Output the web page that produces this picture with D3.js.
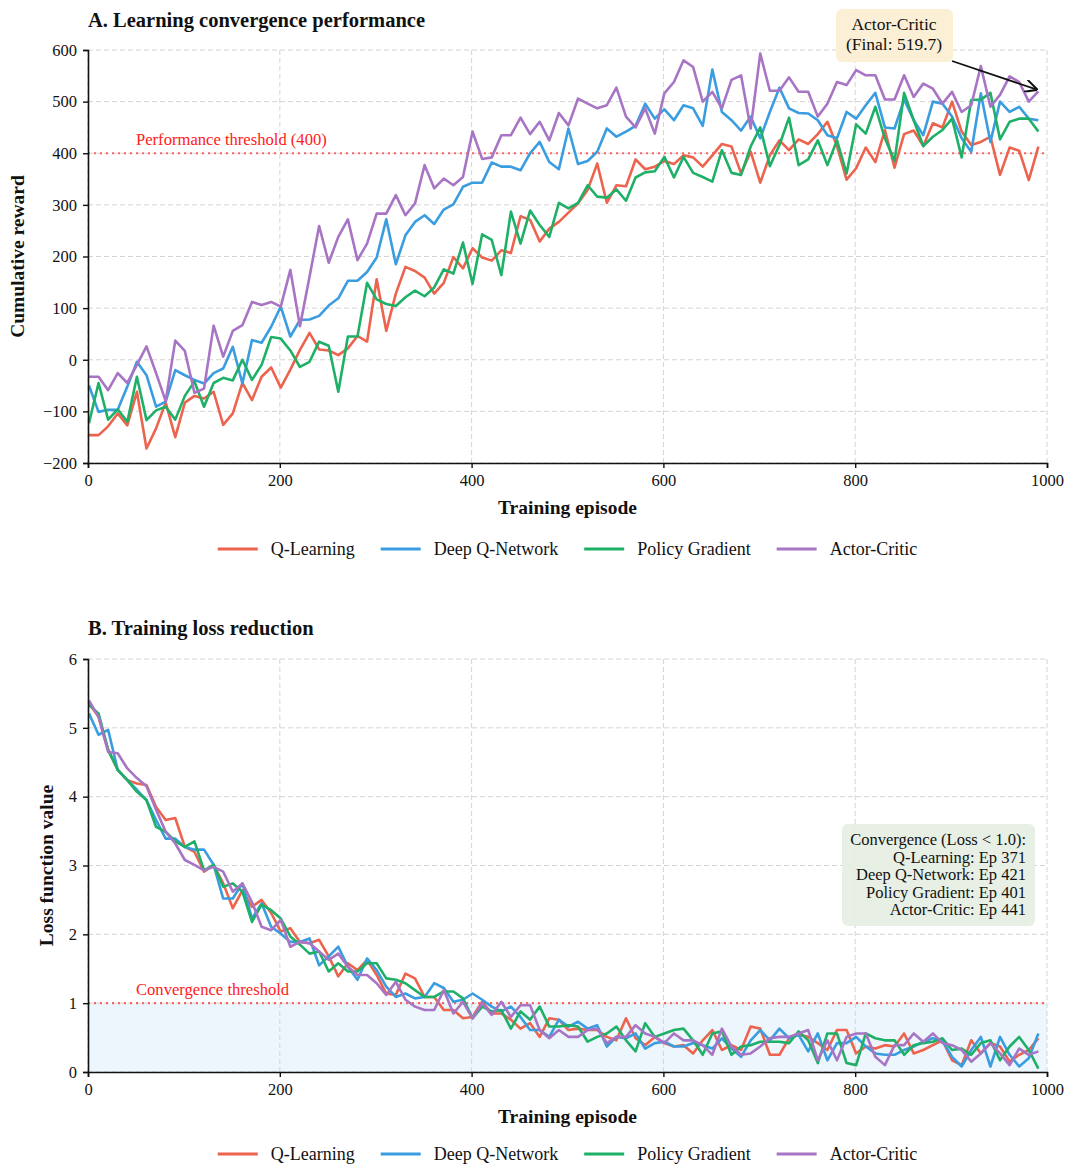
<!DOCTYPE html>
<html lang="en">
<head>
<meta charset="utf-8">
<title>Learning convergence</title>
<script src="https://d3js.org/d3.v7.min.js"></script>
<style>
  body { margin: 0; background: #fff; }
  svg text { font-family: "Liberation Serif", "Times New Roman", serif; fill: #111; }
</style>
</head>
<body>
<script>
// episodes sampled every 10 steps
var episodes = d3.range(1, 1000, 10);

var algorithms = ["Q-Learning", "Deep Q-Network", "Policy Gradient", "Actor-Critic"];
var colors = ["#ec634e", "#3a9de0", "#1fb068", "#a874c4"];

// panel A - cumulative reward
var rewardQL = [-146,-146,-129,-104,-127,-62,-172,-133,-83,-150,-83,-70,-75,-62,-126,-104,-45,-78,-33,-15,
  -54,-19,19,52,20,18,9,22,46,35,156,56,128,180,172,159,128,149,199,177,
  216,198,192,212,207,278,271,229,254,267,285,303,329,380,304,338,336,388,369,374,
  385,379,396,392,374,396,418,413,361,403,343,396,425,406,427,418,437,461,414,349,
  371,411,383,445,372,437,444,414,458,450,500,442,416,422,432,358,411,405,348,413];
var rewardDQN = [-50,-101,-97,-97,-52,-4,-30,-91,-81,-20,-30,-39,-46,-26,-17,25,-46,38,33,64,
  103,45,77,78,85,105,119,153,153,170,198,272,185,241,267,280,263,291,301,335,
  343,343,382,374,374,367,400,422,383,369,448,379,385,403,448,432,442,453,496,467,
  485,464,493,487,453,562,480,464,444,471,429,480,527,487,478,477,464,435,429,480,
  467,493,517,450,448,504,464,435,500,496,471,429,403,516,422,500,480,490,467,464];
var rewardPG = [-123,-45,-116,-96,-120,-33,-117,-98,-91,-116,-70,-42,-91,-45,-35,-40,0,-39,-10,44,
  41,18,-14,-4,35,27,-62,45,45,149,117,108,104,121,134,123,140,175,167,227,
  147,243,232,164,287,225,289,261,238,304,293,304,338,316,314,330,308,353,363,365,
  393,353,393,362,354,345,406,362,358,413,450,375,416,469,377,388,425,377,425,361,
  456,438,490,429,385,517,464,414,432,445,467,392,503,504,517,427,461,467,467,442];
var rewardAC = [-33,-33,-59,-26,-45,-10,26,-26,-80,37,17,-64,-56,66,6,56,67,112,106,112,
  103,174,65,161,259,188,238,272,193,225,283,283,319,280,303,377,332,351,338,354,
  442,389,392,435,435,469,437,461,425,478,454,506,496,487,493,527,471,450,487,438,
  516,538,580,567,500,519,487,542,551,448,593,521,521,547,519,519,471,496,538,532,
  561,551,551,504,504,551,509,535,525,496,519,480,493,569,490,513,549,538,500,519.7];

// panel B - training loss
var lossQL = [5.36,5.16,4.68,4.39,4.24,4.19,4.17,3.85,3.66,3.69,3.27,3.20,2.91,3.01,2.74,2.38,2.64,2.40,2.50,2.31,
  2.04,2.09,1.89,1.87,1.92,1.68,1.39,1.58,1.48,1.63,1.41,1.14,1.12,1.43,1.36,1.09,1.09,0.90,0.90,0.78,
  0.80,1.02,0.85,0.85,0.76,0.63,0.71,0.51,0.78,0.76,0.61,0.63,0.61,0.61,0.51,0.46,0.78,0.49,0.39,0.51,
  0.42,0.37,0.39,0.27,0.46,0.61,0.32,0.39,0.32,0.66,0.63,0.25,0.25,0.49,0.54,0.51,0.42,0.32,0.61,0.61,
  0.27,0.37,0.34,0.39,0.37,0.56,0.27,0.32,0.39,0.46,0.17,0.10,0.46,0.27,0.42,0.37,0.15,0.25,0.32,0.49];
var lossDQN = [5.21,4.90,4.97,4.39,4.24,4.10,3.95,3.66,3.39,3.39,3.27,3.23,3.23,3.01,2.52,2.52,2.74,2.23,2.45,2.11,
  2.01,1.89,1.89,1.94,1.55,1.68,1.82,1.53,1.34,1.65,1.48,1.24,1.09,1.14,1.07,1.09,1.29,1.22,1.02,1.05,
  1.14,1.05,0.95,0.88,0.95,0.80,0.61,0.61,0.51,0.76,0.66,0.73,0.63,0.68,0.37,0.51,0.49,0.56,0.34,0.42,
  0.44,0.37,0.37,0.42,0.39,0.34,0.49,0.34,0.22,0.46,0.61,0.46,0.63,0.49,0.54,0.30,0.56,0.17,0.42,0.42,
  0.51,0.37,0.27,0.25,0.25,0.32,0.37,0.44,0.49,0.46,0.22,0.08,0.32,0.51,0.08,0.51,0.25,0.08,0.20,0.56];
var lossPG = [5.33,5.21,4.68,4.39,4.24,4.07,3.95,3.56,3.49,3.35,3.27,3.35,2.93,3.01,2.69,2.74,2.62,2.18,2.43,2.35,
  2.23,1.97,1.85,1.72,1.75,1.46,1.58,1.46,1.46,1.58,1.58,1.36,1.34,1.29,1.19,1.09,1.09,1.17,1.17,1.07,
  0.78,0.95,0.88,0.90,0.63,0.88,0.76,0.95,0.66,0.66,0.68,0.66,0.44,0.51,0.56,0.66,0.46,0.30,0.71,0.51,
  0.56,0.61,0.63,0.46,0.25,0.56,0.59,0.25,0.37,0.39,0.44,0.44,0.44,0.42,0.59,0.46,0.13,0.56,0.56,0.13,
  0.10,0.56,0.49,0.46,0.46,0.25,0.39,0.42,0.44,0.49,0.32,0.34,0.25,0.42,0.46,0.17,0.37,0.51,0.32,0.05];
var lossAC = [5.40,5.16,4.65,4.63,4.41,4.27,4.15,3.81,3.49,3.32,3.08,3.01,2.93,2.98,2.91,2.62,2.74,2.47,2.11,2.06,
  2.21,1.82,1.89,1.87,1.75,1.63,1.72,1.53,1.41,1.41,1.29,1.12,1.31,1.05,0.95,0.90,0.90,1.19,0.85,1.02,
  0.78,1.00,0.83,1.02,0.80,0.97,0.97,0.61,0.49,0.61,0.51,0.51,0.61,0.63,0.42,0.51,0.51,0.68,0.56,0.51,
  0.42,0.56,0.46,0.46,0.39,0.25,0.63,0.37,0.25,0.27,0.37,0.49,0.51,0.51,0.56,0.61,0.17,0.46,0.17,0.51,
  0.56,0.56,0.22,0.10,0.39,0.39,0.56,0.44,0.56,0.42,0.39,0.32,0.15,0.27,0.42,0.27,0.10,0.34,0.25,0.30];

var rewardTicks = [-200, -100, 0, 100, 200, 300, 400, 500, 600];
var lossTicks = [0, 1, 2, 3, 4, 5, 6];
var episodeTicks = [0, 200, 400, 600, 800, 1000];
var convergenceLines = ["Convergence (Loss < 1.0):", "Q-Learning: Ep 371", "Deep Q-Network: Ep 421",
  "Policy Gradient: Ep 401", "Actor-Critic: Ep 441"];

var rewardSeries = [rewardQL, rewardDQN, rewardPG, rewardAC];
var lossSeries = [lossQL, lossDQN, lossPG, lossAC];

var width = 1067, height = 1165;
var svg = d3.select("body").append("svg")
    .attr("width", width)
    .attr("height", height);

var defs = svg.append("defs");
defs.append("marker")
    .attr("id", "arrowhead")
    .attr("viewBox", "0 0 10 10")
    .attr("refX", 9).attr("refY", 5)
    .attr("markerWidth", 7).attr("markerHeight", 7)
    .attr("orient", "auto")
  .append("path")
    .attr("d", "M0,0 L10,5 L0,10")
    .attr("fill", "none")
    .attr("stroke", "#111")
    .attr("stroke-width", 1.6);

var x = d3.scaleLinear().domain([0, 1000]).range([88, 1047]);

function fmtTick(d) {
  return d < 0 ? "\u2212" + Math.abs(d) : String(d);
}

// draws one panel and returns its y scale
function drawPanel(opts) {
  var y = d3.scaleLinear().domain(opts.domain).range([opts.bottom, opts.top]);
  var g = svg.append("g");

  // light region under the threshold (panel B only)
  if (opts.shade) {
    g.append("rect")
      .attr("x", x(0)).attr("y", y(opts.threshold))
      .attr("width", x(1000) - x(0))
      .attr("height", y(0) - y(opts.threshold))
      .attr("fill", "#3a8ee6").attr("fill-opacity", 0.09);
  }

  // grid
  g.selectAll(".hgrid").data(opts.ticks).enter().append("line")
    .attr("x1", x(0)).attr("x2", x(1000))
    .attr("y1", function(d) { return y(d); }).attr("y2", function(d) { return y(d); })
    .attr("stroke", "#d4d4d4").attr("stroke-width", 1).attr("stroke-dasharray", "5,3");
  g.selectAll(".vgrid").data(episodeTicks).enter().append("line")
    .attr("x1", function(d) { return x(d); }).attr("x2", function(d) { return x(d); })
    .attr("y1", opts.top).attr("y2", opts.bottom)
    .attr("stroke", "#d4d4d4").attr("stroke-width", 1).attr("stroke-dasharray", "5,3");

  // threshold line
  g.append("line")
    .attr("x1", x(0)).attr("x2", x(1000))
    .attr("y1", y(opts.threshold)).attr("y2", y(opts.threshold))
    .attr("stroke", "#ff4a4a").attr("stroke-width", 2.2)
    .attr("stroke-dasharray", "2,4").attr("stroke-opacity", 0.85);
  g.append("text")
    .attr("x", 136).attr("y", y(opts.threshold) - 8)
    .attr("font-size", 16.6).style("fill", "#ff2020")
    .text(opts.thresholdLabel);

  // series
  var line = d3.line()
    .x(function(d, i) { return x(episodes[i]); })
    .y(function(d) { return y(d); });
  opts.series.forEach(function(s, k) {
    g.append("path")
      .datum(s)
      .attr("d", line)
      .attr("fill", "none")
      .attr("stroke", colors[k])
      .attr("stroke-width", 2.6)
      .attr("stroke-linejoin", "round");
  });

  // axes
  var yAxis = g.append("g")
    .attr("transform", "translate(" + x(0) + ",0)")
    .call(d3.axisLeft(y).tickValues(opts.ticks).tickFormat(fmtTick).tickSize(5).tickPadding(6));
  var xAxis = g.append("g")
    .attr("transform", "translate(0," + opts.bottom + ")")
    .call(d3.axisBottom(x).tickValues(episodeTicks).tickFormat(fmtTick).tickSize(5).tickPadding(6));
  [yAxis, xAxis].forEach(function(a) {
    a.select(".domain").attr("stroke", "#111").attr("stroke-width", 1.6);
    a.selectAll(".tick line").attr("stroke", "#111").attr("stroke-width", 1.4);
    a.selectAll(".tick text")
      .attr("font-size", 16.5)
      .style("font-family", "'Liberation Serif', serif")
      .style("fill", "#111");
  });

  // labels
  g.append("text")
    .attr("x", 88).attr("y", opts.titleY)
    .attr("font-size", 20.5).attr("font-weight", "bold")
    .text(opts.title);
  g.append("text")
    .attr("x", x(500)).attr("y", opts.bottom + 51)
    .attr("text-anchor", "middle")
    .attr("font-size", 19.5).attr("font-weight", "bold")
    .text("Training episode");
  g.append("text")
    .attr("transform", "translate(" + opts.ylabelX + "," + ((opts.top + opts.bottom) / 2) + ") rotate(-90)")
    .attr("text-anchor", "middle")
    .attr("font-size", 19.5).attr("font-weight", "bold")
    .text(opts.ylabel);

  drawLegend(opts.legendY);
  return y;
}

function drawLegend(cy) {
  var lg = svg.append("g");
  var items = lg.selectAll("g").data(algorithms).enter().append("g");
  items.append("line")
    .attr("x1", 0).attr("x2", 40).attr("y1", 0).attr("y2", 0)
    .attr("stroke", function(d, i) { return colors[i]; })
    .attr("stroke-width", 3.2);
  items.append("text")
    .attr("x", 53).attr("y", 6)
    .attr("font-size", 18)
    .text(function(d) { return d; });
  var offs = [], pos = 0;
  items.each(function() {
    offs.push(pos);
    pos += 53 + this.querySelector("text").getComputedTextLength() + 26;
  });
  var total = pos - 26;
  var start = x(500) - total / 2;
  items.attr("transform", function(d, i) { return "translate(" + (start + offs[i]) + "," + cy + ")"; });
}

var yA = drawPanel({
  domain: [-200, 600], top: 50, bottom: 463, ticks: rewardTicks,
  series: rewardSeries, threshold: 400, thresholdLabel: "Performance threshold (400)",
  title: "A. Learning convergence performance", titleY: 27,
  ylabel: "Cumulative reward", ylabelX: 24, legendY: 549
});

var yB = drawPanel({
  domain: [0, 6], top: 659, bottom: 1072, ticks: lossTicks,
  series: lossSeries, threshold: 1, thresholdLabel: "Convergence threshold", shade: true,
  title: "B. Training loss reduction", titleY: 635,
  ylabel: "Loss function value", ylabelX: 53, legendY: 1154
});

// annotation for final Actor-Critic value
var ann = svg.append("g");
ann.append("rect")
  .attr("x", 836).attr("y", 9).attr("width", 117).attr("height", 53).attr("rx", 6)
  .attr("fill", "#fbefd6");
ann.append("text").attr("x", 894).attr("y", 30).attr("text-anchor", "middle")
  .attr("font-size", 17.5).text("Actor-Critic");
ann.append("text").attr("x", 894).attr("y", 50).attr("text-anchor", "middle")
  .attr("font-size", 17.5).text("(Final: " + rewardAC[rewardAC.length - 1] + ")");
ann.append("line")
  .attr("x1", 952).attr("y1", 61)
  .attr("x2", x(episodes[episodes.length - 1]) - 2).attr("y2", yA(rewardAC[rewardAC.length - 1]) - 2)
  .attr("stroke", "#111").attr("stroke-width", 1.8)
  .attr("marker-end", "url(#arrowhead)");

// convergence summary box
var box = svg.append("g");
box.append("rect")
  .attr("x", 842).attr("y", 824).attr("width", 193).attr("height", 102).attr("rx", 6)
  .attr("fill", "#e6eee2").attr("fill-opacity", 0.9);
box.selectAll("text").data(convergenceLines).enter().append("text")
  .attr("x", 1026)
  .attr("y", function(d, i) { return 845 + i * 17.5; })
  .attr("text-anchor", "end")
  .attr("font-size", 16.5)
  .text(function(d) { return d; });
</script>
</body>
</html>
